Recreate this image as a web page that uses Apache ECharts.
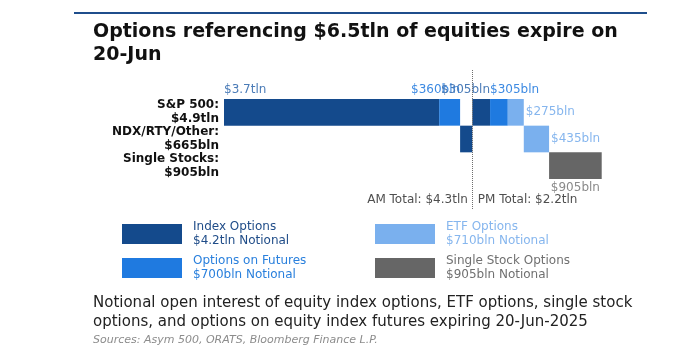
<!DOCTYPE html>
<html><head><meta charset="utf-8">
<script src="https://cdn.jsdelivr.net/npm/echarts@6/dist/echarts.min.js"></script>
<style>html,body{margin:0;padding:0;background:#fff}#c{width:681px;height:357px}</style>
</head><body><div id="c"></div>
<script>
// ---- data ($bln) ----
const categories = ['S&P 500:\n$4.9tln', 'NDX/RTY/Other:\n$665bln', 'Single Stocks:\n$905bln'];
const amIndex   = [3700, 210, null];
const amFutures = [360, null, null];
const pmIndex   = [305, null, null];
const pmFutures = [305, null, null];
const pmEtf     = [275, 435, null];
const pmSingle  = [null, null, 905];
const legendNames = ['Index Options', 'Options on Futures', 'ETF Options', 'Single Stock Options'];
const legendNotional = ['$4.2tln Notional', '$700bln Notional', '$710bln Notional', '$905bln Notional'];
const titleText = 'Options referencing $6.5tln of equities expire on\n20-Jun';
const subText = 'Notional open interest of equity index options, ETF options, single stock\noptions, and options on equity index futures expiring 20-Jun-2025';
const sourceText = 'Sources: Asym 500, ORATS, Bloomberg Finance L.P.';

// ---- styles ----
const FF = 'DejaVu Sans';
const barColors = {'Index Options':'#144a8c','Options on Futures':'#1f7ae0','ETF Options':'#7ab0ee','Single Stock Options':'#666666'};
const textColors = {'Index Options':'#1f4c88','Options on Futures':'#2a80dd','ETF Options':'#86b6ee','Single Stock Options':'#707070'};
const labelColors = {'Index Options':'#4a7bb7','Options on Futures':'#3d8ae2','ETF Options':'#86b6ee','Single Stock Options':'#8a8a8a'};
const fmt = v => v >= 1000 ? '$' + (v/1000).toFixed(1) + 'tln' : '$' + v + 'bln';

const sessions = [
  {key:'AM', parts:[['Index Options', amIndex], ['Options on Futures', amFutures]]},
  {key:'PM', parts:[['Index Options', pmIndex], ['Options on Futures', pmFutures], ['ETF Options', pmEtf], ['Single Stock Options', pmSingle]]}
];
// label placement per segment (session|name|row)
const labelPlace = {
  'AM|Index Options|0': {position:[0,-3], align:'left', verticalAlign:'bottom'},
  'AM|Options on Futures|0': {position:['100%',-3], align:'right', verticalAlign:'bottom'},
  'PM|Index Options|0': {position:['100%',-3], align:'right', verticalAlign:'bottom'},
  'PM|Options on Futures|0': {position:[0,-3], align:'left', verticalAlign:'bottom'},
  'PM|ETF Options|0': {position:'right', distance:2},
  'PM|ETF Options|1': {position:'right', distance:2},
  'PM|Single Stock Options|2': {position:'bottom', distance:3}
};

const series = [];
let running = 0;
const totals = {};
let segIdx = 0;
sessions.forEach(s => {
  let sessTotal = 0;
  for (let r = 0; r < categories.length; r++) {
    s.parts.forEach(([name, arr]) => {
      const v = arr[r];
      if (v == null) return;
      const baseData = categories.map((c, i) => i === r ? running : '-');
      const valData = categories.map((c, i) => i === r ? v : '-');
      const key = s.key + '|' + name + '|' + r;
      const lp = labelPlace[key];
      series.push({type:'bar', stack:'s'+segIdx, data:baseData, silent:true,
        itemStyle:{color:'rgba(0,0,0,0)'}, barGap:'-100%', barCategoryGap:0, emphasis:{disabled:true}});
      series.push({type:'bar', name:name, stack:'s'+segIdx, data:valData, silent:true,
        itemStyle:{color:barColors[name]}, barGap:'-100%', barCategoryGap:0, emphasis:{disabled:true},
        label: lp ? Object.assign({show:true, color:labelColors[name], fontSize:12, fontFamily:FF,
          formatter: p => fmt(p.value)}, lp) : {show:false}});
      running += v; sessTotal += v; segIdx++;
    });
  }
  totals[s.key] = sessTotal;
});
const amTotal = totals.AM;

series.push({type:'scatter', xAxisIndex:1, yAxisIndex:1, symbolSize:1, silent:true,
  itemStyle:{color:'rgba(0,0,0,0)'},
  data:[
    {value:[amTotal, 0.065], label:{show:true, position:'left', distance:4, formatter:'AM Total: ' + fmt(Math.round(totals.AM/100)*100)}},
    {value:[amTotal, 0.065], label:{show:true, position:'right', distance:5, formatter:'PM Total: ' + fmt(Math.round(totals.PM/100)*100)}}
  ],
  label:{color:'#222', fontSize:12, fontFamily:FF},
  markLine:{silent:true, symbol:['none','none'], label:{show:false},
    lineStyle:{type:'dotted', color:'#6e6e6e', width:1}, data:[{xAxis:amTotal}]}
});

const legendItem = (name) => ({name:name, textStyle:{color:textColors[name]}});
const legendBase = {orient:'vertical', top:220, itemWidth:60, itemHeight:20, itemGap:6, padding:0, icon:'rect',
  selectedMode:false, formatter: n => n + '\n' + legendNotional[legendNames.indexOf(n)],
  textStyle:{fontSize:12, lineHeight:14, fontFamily:FF, padding:[0,0,0,6]}};

const option = {
  animation:false,
  backgroundColor:'#fff',
  title:[
    {text:titleText, left:93, top:21, padding:0, textStyle:{fontFamily:FF, fontSize:19, fontWeight:'bold', lineHeight:23, color:'#111'}},
    {text:subText, left:93, top:294, padding:0, textStyle:{fontFamily:FF, fontSize:15, fontWeight:'normal', lineHeight:19, color:'#222'}},
    {text:sourceText, left:93, top:335, padding:0, textStyle:{fontFamily:FF, fontSize:11, fontStyle:'italic', fontWeight:'normal', color:'#8c8c8c'}}
  ],
  graphic:[{type:'line', shape:{x1:74, y1:13, x2:647, y2:13}, style:{stroke:'#1f4e8c', lineWidth:2}}],
  legend:[
    Object.assign({}, legendBase, {left:122, data:[legendItem(legendNames[0]), legendItem(legendNames[1])]}),
    Object.assign({}, legendBase, {left:375, data:[legendItem(legendNames[2]), legendItem(legendNames[3])]})
  ],
  grid:[
    {left:224, top:99, width:378, height:80},
    {left:224, top:70, width:378, height:139}
  ],
  xAxis:[
    {type:'value', min:0, max:6500, show:false, gridIndex:0},
    {type:'value', min:0, max:6500, show:false, gridIndex:1}
  ],
  yAxis:[
    {type:'category', data:categories, inverse:true, gridIndex:0,
      axisLine:{show:false}, axisTick:{show:false}, splitLine:{show:false},
      axisLabel:{interval:0, hideOverlap:false, fontFamily:FF, fontSize:12, fontWeight:'bold', lineHeight:14, color:'#111', margin:5, align:'right'}},
    {type:'value', min:0, max:1, show:false, gridIndex:1}
  ],
  series:series
};
echarts.init(document.getElementById('c'), null, {renderer:'canvas'}).setOption(option);
</script></body></html>
